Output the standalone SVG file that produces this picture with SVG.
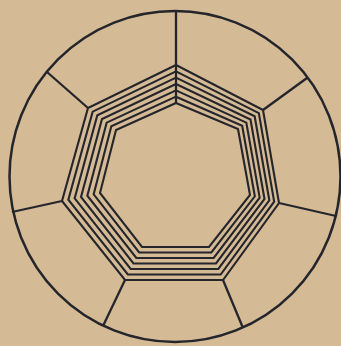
<svg xmlns="http://www.w3.org/2000/svg" width="341" height="346" viewBox="0 0 341 346">
  <style>
    .ink { fill: none; stroke: #25252c; stroke-linejoin: miter; stroke-linecap: butt; }
    .ring { stroke-width: 2.5; }
    .ray { stroke-width: 2.3; }
    .hept { stroke-width: 2.1; }
  </style>
  <rect width="341" height="346" fill="#d5bb95"/>
  <g id="circle">
    <circle class="ink ring" cx="175" cy="176.5" r="165.5"/>
  </g>
  <g id="heptagons">
    <polygon class="ink hept" points="176,65 263,110 279,203 223,280 125,280 62,201 88,108"/>
    <polygon class="ink hept" points="176,71.33 258.83,113.17 274.17,201.67 220.67,274.5 127.83,274.5 68.33,199.67 92.67,111.67"/>
    <polygon class="ink hept" points="176,77.67 254.67,116.33 269.33,200.33 218.33,269 130.67,269 74.67,198.33 97.33,115.33"/>
    <polygon class="ink hept" points="176,84 250.5,119.5 264.5,199 216,263.5 133.5,263.5 81,197 102,119"/>
    <polygon class="ink hept" points="176,90.33 246.33,122.67 259.67,197.67 213.67,258 136.33,258 87.33,195.67 106.67,122.67"/>
    <polygon class="ink hept" points="176,96.67 242.17,125.83 254.83,196.33 211.33,252.5 139.17,252.5 93.67,194.33 111.33,126.33"/>
    <polygon class="ink hept" points="176,103 238,129 250,195 209,247 142,247 100,193 116,130"/>
  </g>
  <g id="connectors">
    <line class="ink ray" x1="176" y1="103" x2="176" y2="11"/>
    <line class="ink ray" x1="263" y1="110" x2="307" y2="78"/>
    <line class="ink ray" x1="279" y1="203" x2="336" y2="216"/>
    <line class="ink ray" x1="223" y1="280" x2="243" y2="328"/>
    <line class="ink ray" x1="125" y1="280" x2="103" y2="326"/>
    <line class="ink ray" x1="62" y1="201" x2="12" y2="212"/>
    <line class="ink ray" x1="88" y1="108" x2="47" y2="72"/>
  </g>
</svg>
